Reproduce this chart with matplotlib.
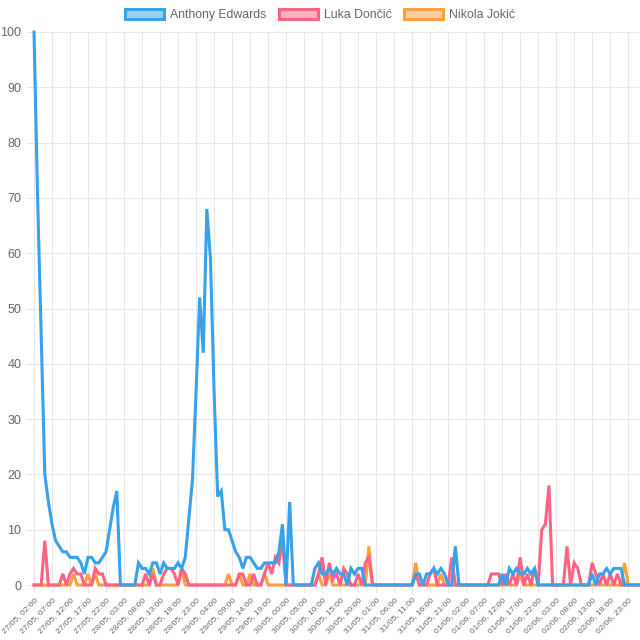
import matplotlib
matplotlib.use("Agg")
import matplotlib.pyplot as plt
import matplotlib.patches as patches
import pandas as pd

plt.rcParams['font.family'] = ['Liberation Sans', 'DejaVu Sans']

hours = pd.date_range("2023-05-27 02:00", periods=169, freq="h")
labels = [h.strftime("%d/%m, %H:%M") for h in hours]

players = ["Anthony Edwards", "Luka Dončić", "Nikola Jokić"]
colors = ["#36a2eb", "#ff6384", "#ff9f40"]

edwards = [100, 70, 45, 20, 15, 11, 8, 7, 6, 6, 5, 5, 5, 4, 2, 5, 5, 4, 4, 5,
           6, 10, 14, 17, 0, 0, 0, 0, 0, 4, 3, 3, 2, 4, 4, 2, 4, 3, 3, 3,
           4, 3, 5, 12, 19, 35, 52, 42, 68, 59, 35, 16, 17, 10, 10, 8, 6, 5, 3, 5,
           5, 4, 3, 3, 4, 4, 4, 4, 6, 11, 0, 15, 0, 0, 0, 0, 0, 0, 3, 4,
           2, 2, 3, 2, 3, 2, 2, 0, 3, 2, 3, 3, 0, 0, 0, 0, 0, 0, 0, 0,
           0, 0, 0, 0, 0, 0, 2, 2, 0, 2, 2, 3, 2, 3, 2, 0, 0, 7, 0, 0,
           0, 0, 0, 0, 0, 0, 0, 0, 0, 0, 2, 0, 3, 2, 3, 2, 2, 3, 2, 3,
           0, 0, 0, 0, 0, 0, 0, 0, 0, 0, 0, 0, 0, 0, 0, 2, 0, 2, 2, 3,
           2, 3, 3, 3, 0, 0, 0, 0, 0]

doncic = [0, 0, 0, 8, 0, 0, 0, 0, 2, 0, 2, 3, 2, 2, 0, 0, 0, 3, 2, 2,
          0, 0, 0, 0, 0, 0, 0, 0, 0, 0, 0, 2, 0, 2, 0, 0, 2, 3, 3, 2,
          0, 3, 2, 0, 0, 0, 0, 0, 0, 0, 0, 0, 0, 0, 0, 0, 0, 2, 2, 0,
          0, 2, 0, 0, 2, 4, 2, 5, 4, 8, 0, 0, 0, 0, 0, 0, 0, 0, 0, 2,
          5, 0, 4, 1, 2, 0, 3, 2, 0, 0, 2, 0, 4, 5, 0, 0, 0, 0, 0, 0,
          0, 0, 0, 0, 0, 0, 2, 0, 0, 0, 2, 3, 0, 0, 0, 0, 5, 0, 0, 0,
          0, 0, 0, 0, 0, 0, 0, 2, 2, 2, 0, 2, 0, 2, 0, 5, 0, 2, 0, 3,
          0, 10, 11, 18, 0, 0, 0, 0, 7, 0, 4, 3, 0, 0, 0, 4, 2, 0, 2, 0,
          2, 0, 2, 0, 0, 0, 0, 0, 0]

jokic = [0, 0, 0, 0, 0, 0, 0, 0, 0, 0, 0, 2, 0, 0, 0, 2, 0, 2, 0, 0,
         0, 0, 0, 0, 0, 0, 0, 0, 0, 0, 0, 0, 0, 3, 0, 0, 0, 0, 0, 0,
         0, 3, 0, 0, 0, 0, 0, 0, 0, 0, 0, 0, 0, 0, 2, 0, 0, 2, 0, 0,
         2, 0, 0, 0, 2, 0, 0, 0, 0, 0, 0, 0, 0, 0, 0, 0, 0, 0, 0, 2,
         0, 0, 2, 0, 0, 0, 0, 0, 0, 0, 0, 0, 0, 7, 0, 0, 0, 0, 0, 0,
         0, 0, 0, 0, 0, 0, 4, 0, 0, 0, 0, 0, 0, 2, 0, 0, 0, 0, 0, 0,
         0, 0, 0, 0, 0, 0, 0, 0, 0, 0, 0, 0, 0, 0, 0, 2, 0, 0, 0, 0,
         0, 0, 0, 0, 0, 0, 0, 0, 0, 0, 0, 0, 0, 0, 0, 0, 0, 0, 0, 0,
         0, 0, 0, 0, 4, 0, 0, 0, 0]

series = [edwards, doncic, jokic]
grid_col = "#e6e6e6"
text_col = "#666666"

fig = plt.figure(figsize=(6.4, 6.4), dpi=100)
ax = fig.add_axes([34/640, 1-585/640, 605/640, 553/640])

x = list(range(len(labels)))
# draw last dataset first so the first one ends up on top
for k in [2, 1, 0]:
    ax.plot(x, series[k], color=colors[k], lw=2.2, solid_joinstyle="miter",
            clip_on=False, zorder=3+(2-k))

ax.set_xlim(0, 168)
ax.set_ylim(0, 100)
ax.set_yticks(range(0, 101, 10))
ax.set_xticks(range(0, 166, 5))
ax.set_xticklabels([labels[i] for i in range(0, 166, 5)], rotation=45,
                   ha="right", rotation_mode="anchor", fontsize=6.0, color=text_col)
for t in ax.get_yticklabels():
    t.set_fontsize(9)
    t.set_color(text_col)
ax.tick_params(axis="both", length=6, width=0.75, color=grid_col, pad=3)
ax.tick_params(axis="x", pad=2)
ax.grid(True, color=grid_col, lw=0.75)
ax.set_axisbelow(True)
for s in ax.spines.values():
    s.set_visible(False)

handles = [patches.Patch(facecolor=matplotlib.colors.to_rgba(c, 0.5), edgecolor=c, lw=2.2)
           for c in colors]
fig.legend(handles, players, loc="center", bbox_to_anchor=(0.5, 1-15/640), ncol=3,
           frameon=False, fontsize=8.8, handlelength=3.2, handleheight=0.9,
           columnspacing=1.0, handletextpad=0.5, labelcolor=text_col)

fig.savefig("out.png", dpi=100)
